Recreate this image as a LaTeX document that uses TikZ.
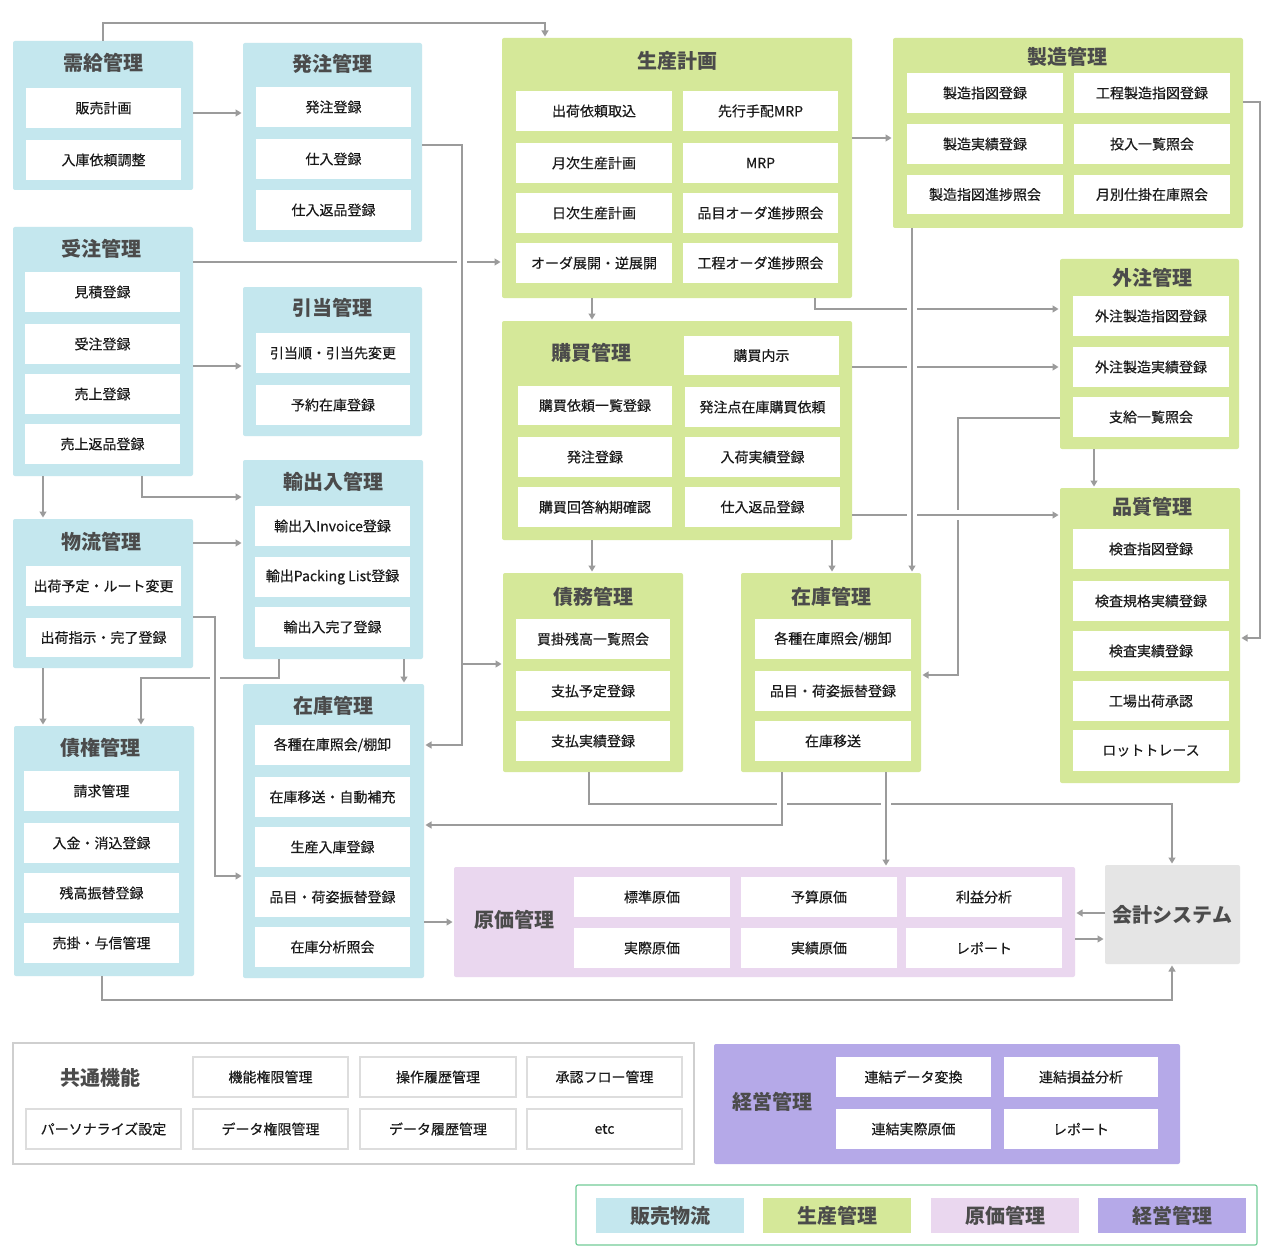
\documentclass[tikz,border=0pt]{standalone}
\usepackage{fontspec}
\setmainfont{Noto Sans CJK JP}
\newfontfamily\itmfam{Noto Sans CJK JP}[FakeBold=0.35]
\usetikzlibrary{arrows.meta}
\definecolor{cblue}{HTML}{C4E7EE}
\definecolor{cgreen}{HTML}{D5E899}
\definecolor{cpink}{HTML}{EAD7EF}
\definecolor{cpurple}{HTML}{B5A9E8}
\definecolor{cgray}{HTML}{E5E5E5}
\definecolor{cline}{HTML}{9B9B9B}
\definecolor{ctitle}{HTML}{4B4B4B}
\definecolor{ctext}{HTML}{1A1A1A}
\definecolor{clegend}{HTML}{72CC98}
\definecolor{cborder}{HTML}{CFCFCF}
\definecolor{cib}{HTML}{DDDDDD}
\newcommand\itmfont{\itmfam\fontsize{14}{16}\selectfont}
\newcommand\ttlfont{\fontsize{20}{24}\selectfont\bfseries}
\tikzset{
  pnl/.style={inner sep=0pt, outer sep=0pt, rounded corners=2pt},
  pblue/.style={pnl, fill=cblue},
  pgreen/.style={pnl, fill=cgreen},
  ppink/.style={pnl, fill=cpink},
  ppurple/.style={pnl, fill=cpurple},
  pgray/.style={pnl, fill=cgray},
  itm/.style={fill=white, inner sep=0pt, outer sep=0pt, font=\itmfont, text=ctext},
  citm/.style={draw=cib, line width=1.3pt},
  ttl/.style={inner sep=0pt, font=\ttlfont, text=ctitle},
  ln/.style={draw=cline, line width=1.2pt},
  arr/.style={ln, -{Triangle[length=6pt,width=7pt]}, shorten >=1.5pt},
  gapfill/.style={fill=white, draw=none}
}
\newcommand\pnl[6]{\node[#1, minimum width={#4-#2}, minimum height={#5-#3}] (#6) at ({(#2+#4)/2},{(#3+#5)/2}) {};}
\newcommand\itb[7][]{\node[itm,#1, minimum width={#5-#3}, minimum height={#6-#4}] (#2) at ({(#3+#5)/2},{(#4+#6)/2}) {#7};}
\newcommand\ttl[4]{\node[ttl] (#1) at (#2,#3) {#4};}
\newcommand\hgap[2]{\fill[gapfill] ({#1-5},{#2-3}) rectangle ({#1+5},{#2+3});}
\newcommand\vgap[2]{\fill[gapfill] ({#1-3},{#2-5}) rectangle ({#1+3},{#2+5});}
\begin{document}
\begin{tikzpicture}[x=1pt,y=-1pt]
\useasboundingbox (0,0) rectangle (1280,1260);
\fill[white] (0,0) rectangle (1280,1260);

% ---------- blue panels ----------
\pnl{pblue}{13}{41}{193}{190}{jukyu}
\ttl{jukyuT}{103}{63}{需給管理}
\itb{jk1}{26}{88}{181}{128}{販売計画}
\itb{jk2}{26}{140}{181}{180}{入庫依頼調整}

\pnl{pblue}{13}{227}{193}{476}{juchu}
\ttl{juchuT}{101}{249}{受注管理}
\itb{jc1}{25}{272}{180}{312}{見積登録}
\itb{jc2}{25}{324}{180}{364}{受注登録}
\itb{jc3}{25}{374}{180}{414}{売上登録}
\itb{jc4}{25}{424}{180}{464}{売上返品登録}

\pnl{pblue}{13}{519}{193}{668}{butsuryu}
\ttl{butsuryuT}{101}{542}{物流管理}
\itb{br1}{26}{566}{181}{606}{出荷予定・ルート変更}
\itb{br2}{26}{618}{181}{657}{出荷指示・完了登録}

\pnl{pblue}{14}{726}{194}{976}{saiken}
\ttl{saikenT}{100}{748}{債権管理}
\itb{sk1}{24}{771}{179}{811}{請求管理}
\itb{sk2}{24}{823}{179}{863}{入金・消込登録}
\itb{sk3}{24}{873}{179}{913}{残高振替登録}
\itb{sk4}{24}{923}{179}{963}{売掛・与信管理}

\pnl{pblue}{243}{43}{422}{242}{hatchu}
\ttl{hatchuT}{332}{64}{発注管理}
\itb{hc1}{256}{87}{411}{127}{発注登録}
\itb{hc2}{256}{139}{411}{179}{仕入登録}
\itb{hc3}{256}{190}{411}{230}{仕入返品登録}

\pnl{pblue}{243}{287}{422}{436}{hikiate}
\ttl{hikiateT}{332}{308}{引当管理}
\itb{hk1}{256}{333}{410}{373}{引当順・引当先変更}
\itb{hk2}{256}{385}{410}{425}{予約在庫登録}

\pnl{pblue}{243}{460}{423}{659}{yushutsu}
\ttl{yushutsuT}{333}{482}{輸出入管理}
\itb{ys1}{255}{506}{410}{546}{輸出入Invoice登録}
\itb{ys2}{255}{557}{410}{597}{輸出Packing List登録}
\itb{ys3}{255}{607}{410}{647}{輸出入完了登録}

\pnl{pblue}{243}{684}{424}{978}{zaikoB}
\ttl{zaikoBT}{333}{706}{在庫管理}
\itb{zb1}{255}{725}{410}{765}{各種在庫照会/棚卸}
\itb{zb2}{255}{777}{410}{817}{在庫移送・自動補充}
\itb{zb3}{255}{827}{410}{867}{生産入庫登録}
\itb{zb4}{255}{877}{410}{917}{品目・荷姿振替登録}
\itb{zb5}{255}{927}{410}{967}{在庫分析照会}

% ---------- green panels ----------
\pnl{pgreen}{502}{38}{852}{298}{seisan}
\ttl{seisanT}{677}{61}{生産計画}
\itb{ss1}{516}{91}{672}{131}{出荷依頼取込}
\itb{ss2}{683}{91}{838}{131}{先行手配MRP}
\itb{ss3}{516}{143}{672}{183}{月次生産計画}
\itb{ss4}{683}{143}{838}{183}{MRP}
\itb{ss5}{516}{193}{672}{233}{日次生産計画}
\itb{ss6}{683}{193}{838}{233}{品目オーダ進捗照会}
\itb{ss7}{516}{243}{672}{283}{オーダ展開・逆展開}
\itb{ss8}{683}{243}{838}{283}{工程オーダ進捗照会}

\pnl{pgreen}{893}{38}{1243}{228}{seizo}
\ttl{seizoT}{1067}{57}{製造管理}
\itb{sz1}{907}{73}{1063}{113}{製造指図登録}
\itb{sz2}{1074}{73}{1230}{113}{工程製造指図登録}
\itb{sz3}{907}{124}{1063}{164}{製造実績登録}
\itb{sz4}{1074}{124}{1230}{164}{投入一覧照会}
\itb{sz5}{907}{175}{1063}{214}{製造指図進捗照会}
\itb{sz6}{1074}{175}{1230}{214}{月別仕掛在庫照会}

\pnl{pgreen}{502}{321}{852}{540}{kobai}
\ttl{kobaiT}{591}{353}{購買管理}
\itb{kb1}{684}{336}{839}{375}{購買内示}
\itb{kb2}{518}{386}{672}{425}{購買依頼一覧登録}
\itb{kb3}{685}{387}{840}{427}{発注点在庫購買依頼}
\itb{kb4}{518}{437}{672}{477}{発注登録}
\itb{kb5}{685}{437}{840}{477}{入荷実績登録}
\itb{kb6}{518}{487}{672}{527}{購買回答納期確認}
\itb{kb7}{685}{487}{840}{527}{仕入返品登録}

\pnl{pgreen}{503}{573}{683}{772}{saimu}
\ttl{saimuT}{593}{597}{債務管理}
\itb{sm1}{516}{619}{670}{659}{買掛残高一覧照会}
\itb{sm2}{516}{671}{670}{711}{支払予定登録}
\itb{sm3}{516}{721}{670}{761}{支払実績登録}

\pnl{pgreen}{741}{573}{921}{772}{zaikoG}
\ttl{zaikoGT}{831}{597}{在庫管理}
\itb{zg1}{755}{619}{911}{659}{各種在庫照会/棚卸}
\itb{zg2}{755}{671}{911}{711}{品目・荷姿振替登録}
\itb{zg3}{755}{721}{911}{761}{在庫移送}

\pnl{pgreen}{1060}{259}{1239}{449}{gaichu}
\ttl{gaichuT}{1152}{278}{外注管理}
\itb{gc1}{1073}{296}{1229}{336}{外注製造指図登録}
\itb{gc2}{1073}{347}{1229}{387}{外注製造実績登録}
\itb{gc3}{1073}{397}{1229}{437}{支給一覧照会}

\pnl{pgreen}{1060}{488}{1240}{783}{hinshitsu}
\ttl{hinshitsuT}{1152}{507}{品質管理}
\itb{hs1}{1073}{529}{1229}{569}{検査指図登録}
\itb{hs2}{1073}{581}{1229}{621}{検査規格実績登録}
\itb{hs3}{1073}{631}{1229}{671}{検査実績登録}
\itb{hs4}{1073}{681}{1229}{721}{工場出荷承認}
\itb{hs5}{1073}{730}{1229}{771}{ロットトレース}

% ---------- 原価管理 / 会計システム ----------
\pnl{ppink}{454}{867}{1075}{977}{genka}
\ttl{genkaT}{514}{920}{原価管理}
\itb{gk1}{574}{877}{730}{917}{標準原価}
\itb{gk2}{741}{877}{897}{917}{予算原価}
\itb{gk3}{906}{877}{1062}{917}{利益分析}
\itb{gk4}{574}{928}{730}{968}{実際原価}
\itb{gk5}{741}{928}{897}{968}{実績原価}
\itb{gk6}{906}{928}{1062}{968}{レポート}

\node[pgray, minimum width=135, minimum height=99, font=\ttlfont, text=ctitle] (kaikei) at (1172.5,914.5) {会計システム};

% ---------- 共通機能 ----------
\node[inner sep=0pt, outer sep=0pt, draw=cborder, line width=1.3pt, fill=white, minimum width=681, minimum height=121] (kyotsu) at (353.5,1103.5) {};
\ttl{kyotsuT}{100}{1078}{共通機能}
\itb[citm]{ky1}{193}{1057}{348}{1097}{機能権限管理}
\itb[citm]{ky2}{360}{1057}{516}{1097}{操作履歴管理}
\itb[citm]{ky3}{527}{1057}{682}{1097}{承認フロー管理}
\itb[citm]{ky4}{26}{1109}{181}{1149}{パーソナライズ設定}
\itb[citm]{ky5}{193}{1109}{348}{1149}{データ権限管理}
\itb[citm]{ky6}{360}{1109}{516}{1149}{データ履歴管理}
\itb[citm]{ky7}{527}{1109}{682}{1149}{etc}

% ---------- 経営管理 ----------
\pnl{ppurple}{714}{1044}{1180}{1164}{keiei}
\ttl{keieiT}{772}{1102}{経営管理}
\itb{ke1}{836}{1057}{991}{1097}{連結データ変換}
\itb{ke2}{1004}{1057}{1158}{1097}{連結損益分析}
\itb{ke3}{836}{1109}{991}{1149}{連結実際原価}
\itb{ke4}{1004}{1109}{1158}{1149}{レポート}

% ---------- legend ----------
\node[inner sep=0pt, outer sep=0pt, draw=clegend, line width=1.2pt, rounded corners=2pt, minimum width=681, minimum height=60] (legend) at (916.5,1215) {};
\node[fill=cblue, inner sep=0pt, minimum width=148, minimum height=35, font=\ttlfont, text=ctitle] (lg1) at (670,1215.5) {販売物流};
\node[fill=cgreen, inner sep=0pt, minimum width=148, minimum height=35, font=\ttlfont, text=ctitle] (lg2) at (837,1215.5) {生産管理};
\node[fill=cpink, inner sep=0pt, minimum width=148, minimum height=35, font=\ttlfont, text=ctitle] (lg3) at (1005,1215.5) {原価管理};
\node[fill=cpurple, inner sep=0pt, minimum width=148, minimum height=35, font=\ttlfont, text=ctitle] (lg4) at (1172,1215.5) {経営管理};

% ---------- connectors: lines that get interrupted ----------
\draw[arr] (juchu.east |- 0,262) -- (seisan.west |- 0,262);
\draw[arr] (seisan.south -| 815,0) |- (gaichu.west |- 0,309);
\draw[arr] (kobai.east |- 0,367) -- (gaichu.west |- 0,367);
\draw[arr] (yushutsu.south -| 279,0) -- (279,678) -| (saiken.north -| 141,0);
\draw[arr] (saimu.south -| 589,0) -- (589,804) -| (kaikei.north -| 1172,0);
\draw[arr] (gaichu.west |- 0,418) -- (958,418) -- (958,675) -- (zaikoG.east |- 0,675);
\vgap{958}{515}
\draw[arr] (kobai.east |- 0,515) -- (hinshitsu.west |- 0,515);
\hgap{462}{262}
\hgap{912}{309}
\hgap{912}{367}
\hgap{912}{515}
\hgap{215}{678}
\hgap{782}{804}
\hgap{886}{804}

% ---------- connectors: continuous ----------
\draw[arr] (jukyu.north) -- (103,23) -| (seisan.north -| 545,0);
\draw[arr] (jukyu.east |- 0,113) -- (hatchu.west |- 0,113);
\draw[arr] (hatchu.east |- 0,145) -- (462,145) -- (462,745) -- (zaikoB.east |- 0,745);
\draw[arr] (462,664) -- (saimu.west |- 0,664);
\draw[arr] (juchu.east |- 0,366) -- (hikiate.west |- 0,366);
\draw[arr] (juchu.south -| 43,0) -- (butsuryu.north -| 43,0);
\draw[arr] (juchu.south -| 142,0) |- (yushutsu.west |- 0,497);
\draw[arr] (butsuryu.east |- 0,543) -- (yushutsu.west |- 0,543);
\draw[arr] (butsuryu.east |- 0,617) -- (215,617) -- (215,876) -- (zaikoB.west |- 0,876);
\draw[arr] (butsuryu.south -| 43,0) -- (saiken.north -| 43,0);
\draw[arr] (yushutsu.south -| 404,0) -- (zaikoB.north -| 404,0);
\draw[arr] (seisan.south -| 592,0) -- (kobai.north -| 592,0);
\draw[arr] (seisan.east |- 0,138) -- (seizo.west |- 0,138);
\draw[arr] (kobai.south -| 592,0) -- (saimu.north -| 592,0);
\draw[arr] (kobai.south -| 832,0) -- (zaikoG.north -| 832,0);
\draw[arr] (seizo.south -| 912,0) -- (zaikoG.north -| 912,0);
\draw[arr] (gaichu.south -| 1094,0) -- (hinshitsu.north -| 1094,0);
\draw[arr] (seizo.east |- 0,102) -- (1260,102) -- (1260,638) -- (hinshitsu.east |- 0,638);
\draw[arr] (zaikoG.south -| 782,0) -- (782,825) -- (zaikoB.east |- 0,825);
\draw[arr] (zaikoG.south -| 886,0) -- (genka.north -| 886,0);
\draw[arr] (zaikoB.east |- 0,922) -- (genka.west |- 0,922);
\draw[arr] (kaikei.west |- 0,913) -- (genka.east |- 0,913);
\draw[arr] (genka.east |- 0,939) -- (kaikei.west |- 0,939);
\draw[arr] (saiken.south -| 102,0) -- (102,1000) -| (kaikei.south -| 1172,0);
\end{tikzpicture}
\end{document}
